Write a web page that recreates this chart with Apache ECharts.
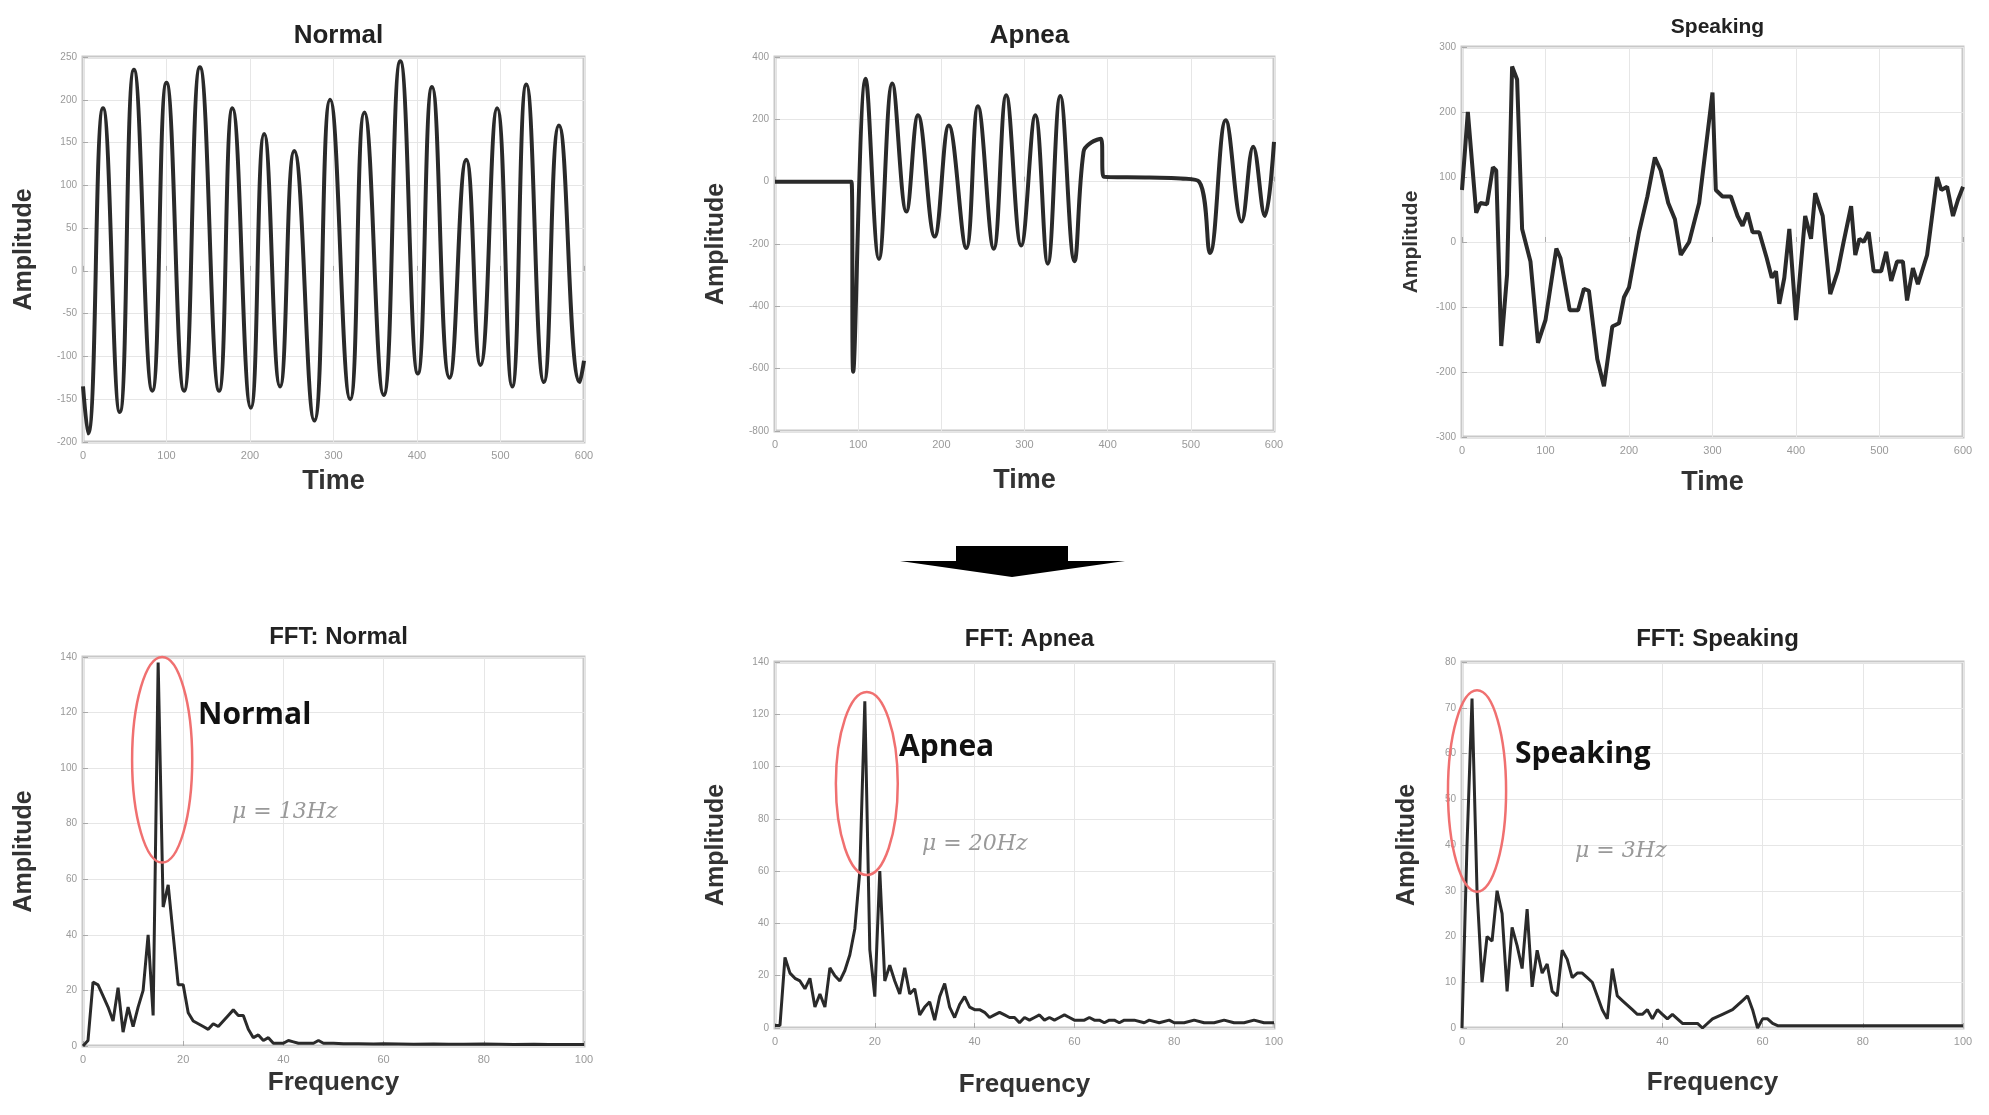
<!DOCTYPE html>
<html><head><meta charset="utf-8">
<script src="https://cdn.jsdelivr.net/npm/echarts@6/dist/echarts.min.js"></script>
<style>html,body{margin:0;padding:0;background:#fff}#c{width:1989px;height:1115px}</style>
</head><body><div id="c"></div>
<script>
// ---- data ----
const normalTime = [[0,-135],[6,-190],[24,190],[44,-165],[61,235],[83,-140],[100,220],[121,-140],[140,238],[163,-140],[179,190],[201,-160],[217,160],[236,-135],[253,140],[277,-175],[296,200],[320,-150],[337,185],[360,-145],[380,245],[401,-120],[418,215],[439,-125],[459,130],[476,-110],[496,190],[514,-135],[531,218],[552,-130],[570,170],[595,-130],[600,-105]];
const apneaTime = [[0,0],[92,0],[94,-610],[109,330],[125,-248],[141,315],[158,-96],[172,213],[192,-176],[209,180],[230,-213],[244,242],[263,-215],[278,277],[296,-205],[313,213],[328,-263],[343,275],[360,-255],[371,96],[380,125],[392,138],[395,16],[450,13],[488,10],[510,0],[523,-229],[542,197],[561,-128],[575,112],[589,-110],[600,128]];
const speakingTime = [[0,80],[7,200],[17,45],[22,60],[30,58],[37,115],[41,110],[47,-160],[54,-50],[60,270],[66,250],[72,20],[82,-30],[91,-155],[100,-120],[113,-10],[118,-25],[129,-105],[139,-105],[146,-72],[152,-75],[162,-180],[170,-222],[180,-130],[188,-125],[194,-85],[200,-70],[212,15],[222,70],[231,130],[238,110],[247,60],[255,35],[262,-20],[272,0],[284,60],[300,230],[304,80],[312,70],[322,70],[330,40],[336,25],[342,45],[348,15],[356,15],[365,-25],[371,-55],[376,-45],[380,-95],[386,-55],[392,20],[400,-120],[411,40],[418,5],[423,75],[432,40],[441,-80],[450,-45],[457,0],[466,55],[471,-20],[476,5],[481,0],[487,15],[493,-45],[502,-45],[508,-15],[514,-60],[521,-30],[528,-30],[533,-90],[540,-40],[546,-65],[557,-20],[569,100],[574,80],[581,85],[588,40],[594,65],[600,85]];
const fftNormal = [[0,0],[1,2],[2,23],[3,22],[4,18],[5,14],[6,9],[7,21],[8,5],[9,14],[10,7],[11,14],[12,20],[13,40],[14,11],[15,138],[16,50],[17,58],[18,40],[19,22],[20,22],[21,12],[22,9],[23,8],[24,7],[25,6],[26,8],[27,7],[28,9],[29,11],[30,13],[31,11],[32,11],[33,6],[34,3],[35,4],[36,2],[37,3],[38,1],[39,1],[40,1],[41,2],[42,1.5],[43,1],[44,1],[45,1],[46,1],[47,2],[48,1],[50,1],[52,0.8],[55,0.8],[58,0.7],[60,0.8],[63,0.7],[66,0.6],[70,0.7],[73,0.6],[76,0.6],[80,0.7],[83,0.6],[86,0.5],[90,0.6],[93,0.5],[96,0.5],[100,0.5]];
const fftApnea = [[0,1],[1,1],[2,27],[3,21],[4,19],[5,18],[6,15],[7,19],[8,8],[9,13],[10,8],[11,23],[12,20],[13,18],[14,22],[15,28],[16,38],[17,60],[18,125],[19,30],[20,12],[21,60],[22,18],[23,24],[24,18],[25,13],[26,23],[27,13],[28,15],[29,5],[30,8],[31,10],[32,3],[33,12],[34,17],[35,8],[36,4],[37,9],[38,12],[39,8],[40,7],[41,7],[42,6],[43,4],[44,5],[45,6],[46,5],[47,4],[48,4],[49,2],[50,4],[51,3],[52,4],[53,5],[54,3],[55,4],[56,3],[57,4],[58,5],[59,4],[60,3],[61,3],[62,3],[63,4],[64,3],[65,3],[66,2],[67,3],[68,3],[69,2],[70,3],[72,3],[74,2],[75,3],[77,2],[79,3],[80,2],[82,2],[84,3],[86,2],[88,2],[90,3],[92,2],[94,2],[96,3],[98,2],[100,2]];
const fftSpeaking = [[0,0],[1,40],[2,72],[3,30],[4,10],[5,20],[6,19],[7,30],[8,25],[9,8],[10,22],[11,18],[12,13],[13,26],[14,9],[15,17],[16,12],[17,14],[18,8],[19,7],[20,17],[21,15],[22,11],[23,12],[24,12],[25,11],[26,10],[27,7],[28,4],[29,2],[30,13],[31,7],[32,6],[33,5],[34,4],[35,3],[36,3],[37,4],[38,2],[39,4],[40,3],[41,2],[42,3],[43,2],[44,1],[45,1],[47,1],[48,0],[50,2],[52,3],[54,4],[56,6],[57,7],[58,4],[59,0],[60,2],[61,2],[62,1],[63,0.5],[66,0.5],[70,0.5],[75,0.5],[80,0.5],[85,0.5],[90,0.5],[95,0.5],[100,0.5]];
const titles = ['Normal','Apnea','Speaking','FFT: Normal','FFT: Apnea','FFT: Speaking'];
const timeTicks = {min:0,max:600,interval:100};
const yRanges = [{min:-200,max:250,interval:50},{min:-800,max:400,interval:200},{min:-300,max:300,interval:100},{min:0,max:140,interval:20},{min:0,max:140,interval:20},{min:0,max:80,interval:10}];
const peakLabels = ['Normal','Apnea','Speaking'];
const muLabels = ['\u03bc = 13Hz','\u03bc = 20Hz','\u03bc = 3Hz'];
// ellipse in data units: [cx, cy, rx, ry]
const ellipses = [[15.8,103,6.0,37],[18.4,93.5,6.2,35],[3,51.8,5.8,22]];

// ---- layout ----
const grids = [
 {left:83,top:57,width:501,height:385},
 {left:775,top:57,width:499,height:374},
 {left:1462,top:47,width:501,height:390},
 {left:83,top:657,width:501,height:389},
 {left:775,top:662,width:499,height:366},
 {left:1462,top:662,width:501,height:366}
];
const titleY=[18,18,12,620,622,622];
const titleSize=[26,26,21,24,24,24];
const xGap=[26,36,32,24,44,42];
const series=[normalTime,apneaTime,speakingTime,fftNormal,fftApnea,fftSpeaking];
const smooth=[0.5,0.4,false,false,false,false];
const xNames=['Time','Time','Time','Frequency','Frequency','Frequency'];
const font='"Liberation Sans", Arial, sans-serif';
const chart=echarts.init(document.getElementById('c'));
const opt={backgroundColor:'#fff',animation:false,title:[],grid:[],xAxis:[],yAxis:[],series:[]};
grids.forEach((g,i)=>{
 opt.grid.push(Object.assign({show:true,borderColor:'#c8c8c8',borderWidth:3,backgroundColor:'#fff'},g));
 opt.title.push({text:titles[i],left:g.left+g.width/2,top:titleY[i],textAlign:'center',textStyle:{fontFamily:font,fontWeight:'bold',fontSize:titleSize[i],color:'#222'}});
 const xr=i<3?timeTicks:{min:0,max:100,interval:20};
 const ax={type:'value',gridIndex:i,min:xr.min,max:xr.max,interval:xr.interval,
  axisLine:{show:false},axisTick:{show:true,inside:true,length:5,lineStyle:{color:'#aaa'}},
  splitLine:{show:true,lineStyle:{color:'#e6e6e6',width:1}},
  axisLabel:{fontFamily:font,fontSize:11,color:'#999',margin:8}};
 opt.xAxis.push(Object.assign({},ax,{name:xNames[i],nameLocation:'middle',nameGap:xGap[i],nameTextStyle:{fontFamily:font,fontWeight:'bold',fontSize:i<3?27:26,color:'#333'}}));
 const yr=yRanges[i];
 opt.yAxis.push(Object.assign({},ax,{min:yr.min,max:yr.max,interval:yr.interval,name:'Amplitude',nameLocation:'middle',nameGap:i==2?40:(i==5?42:46),nameTextStyle:{fontFamily:font,fontWeight:'bold',fontSize:i==2?21:25,color:'#333'},axisLabel:{fontFamily:font,fontSize:10,color:'#999',margin:6}}));
 opt.series.push({type:'line',xAxisIndex:i,yAxisIndex:i,data:series[i],smooth:smooth[i],showSymbol:false,lineStyle:{color:'#2a2a2a',width:i<3?4:3},z:3});
});
chart.setOption(opt);
// annotations
const g=[];
ellipses.forEach((e,k)=>{
 const idx=3+k;
 const c=chart.convertToPixel({gridIndex:idx},[e[0],e[1]]);
 const p=chart.convertToPixel({gridIndex:idx},[e[0]+e[2],e[1]+e[3]]);
 g.push({type:'ellipse',shape:{cx:c[0],cy:c[1],rx:Math.abs(p[0]-c[0]),ry:Math.abs(p[1]-c[1])},style:{fill:null,stroke:'#f07070',lineWidth:2.5},z:10});
});
const lblPos=[[198,718],[899,750],[1515,757]];
const muPos=[[232,813],[922,845],[1575,852]];
peakLabels.forEach((t,k)=>{
 g.push({type:'text',left:lblPos[k][0],top:lblPos[k][1]-18,style:{text:t,font:'bold 30px "Open Sans", sans-serif',fill:'#111'},z:10});
 g.push({type:'text',left:muPos[k][0],top:muPos[k][1]-12,style:{text:muLabels[k],font:'italic 22px "DejaVu Serif", serif',fill:'#999'},z:10});
});
g.push({type:'polygon',shape:{points:[[956,546],[1068,546],[1068,561],[1125,561],[1012,577],[900,561],[956,561]]},style:{fill:'#000'},z:10});
chart.setOption({graphic:g});
</script></body></html>
